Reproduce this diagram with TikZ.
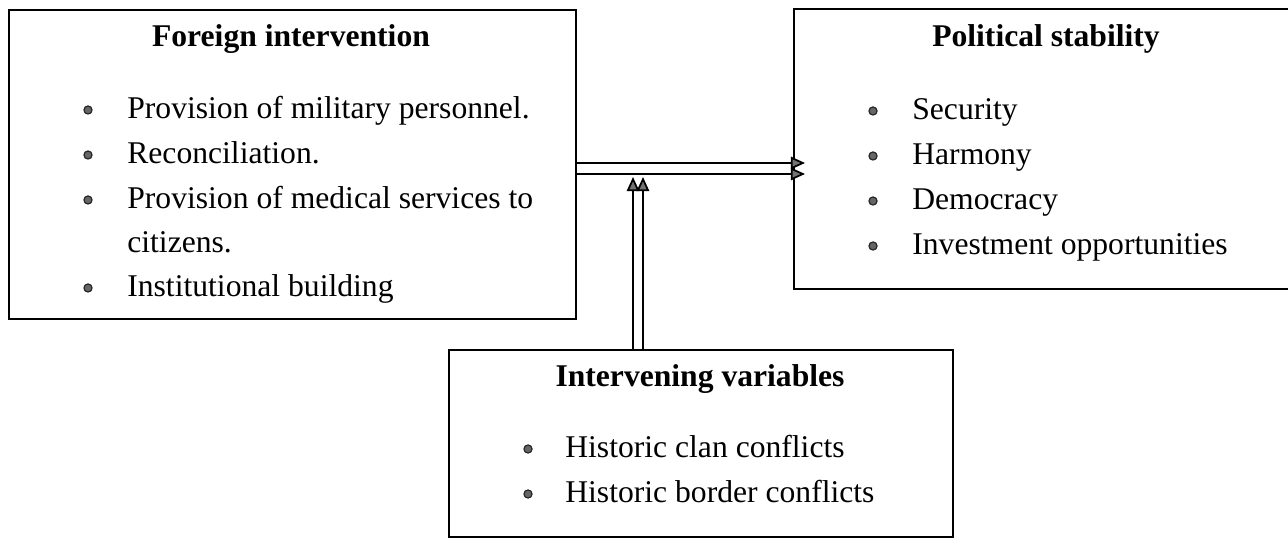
\documentclass[tikz,border=0pt]{standalone}
\usepackage{fontspec}
\setmainfont{Liberation Serif}
\usetikzlibrary{positioning, arrows.meta}
\newcommand{\PX}{0.02}
\newcommand{\ITEMSIZE}{\fontsize{18}{22}\selectfont}
\newcommand{\HEADSIZE}{\fontsize{18}{22}\selectfont\bfseries}

\tikzset{
    box/.style={draw, line width=1pt, anchor=north west, inner sep=0pt},
    head/.style={font=\HEADSIZE, anchor=base, inner sep=0pt},
    item/.style={font=\ITEMSIZE, anchor=base west, inner sep=0pt},
    dot/.style={draw=black!85, fill=black!60, line width=0.7pt},
    flow/.style={line width=1pt, -{Triangle[length=8pt, width=7pt, fill=black!55]}}
}

\begin{document}
\begin{tikzpicture}[x=\PX cm, y=-\PX cm]
    \useasboundingbox (0, 0) rectangle (1288, 543);

    % three boxes
    \node[box, minimum width=11.34cm, minimum height=6.18cm] (fi) at (8, 9) {};
    \node[box, minimum width=9.9cm, minimum height=5.6cm] (ps) at (793, 8) {};
    \node[box, minimum width=10.08cm, minimum height=3.74cm] (iv) at (448, 349) {};

    % headings
    \node[head] (fihead) at (291, 47) {Foreign intervention};
    \node[head] (pshead) at (1046, 47) {Political stability};
    \node[head] (ivhead) at (700, 387) {Intervening variables};

    % left box items
    \foreach \y/\txt in {
            119/Provision of military personnel.,
            164/Reconciliation.,
            209/Provision of medical services to,
            297/Institutional building
        } {
            \fill[dot] (88, \y-9) circle (2.3pt);
            \node[item] at (127, \y) {\txt};
        }
    \node[item] (ficont) at (127, 253) {citizens.};

    % right box items
    \foreach \y/\txt in {120/Security, 165/Harmony, 210/Democracy, 255/Investment opportunities} {
            \fill[dot] (873, \y-9) circle (2.3pt);
            \node[item] at (912, \y) {\txt};
        }

    % bottom box items
    \foreach \y/\txt in {458/Historic clan conflicts, 503/Historic border conflicts} {
            \fill[dot] (528, \y-9) circle (2.3pt);
            \node[item] at (565, \y) {\txt};
        }

    % double line arrows
    \coordinate (jointa) at (633, 177);
    \coordinate (jointb) at (643, 177);
    \draw[flow, shorten >=-12*\PX cm] (fi.east |- 0, 163) -- (ps.west |- 0, 163);
    \draw[flow, shorten >=-12*\PX cm] (fi.east |- 0, 174) -- (ps.west |- 0, 174);
    \draw[flow] (iv.north -| jointa) -- (jointa);
    \draw[flow] (iv.north -| jointb) -- (jointb);
\end{tikzpicture}
\end{document}
